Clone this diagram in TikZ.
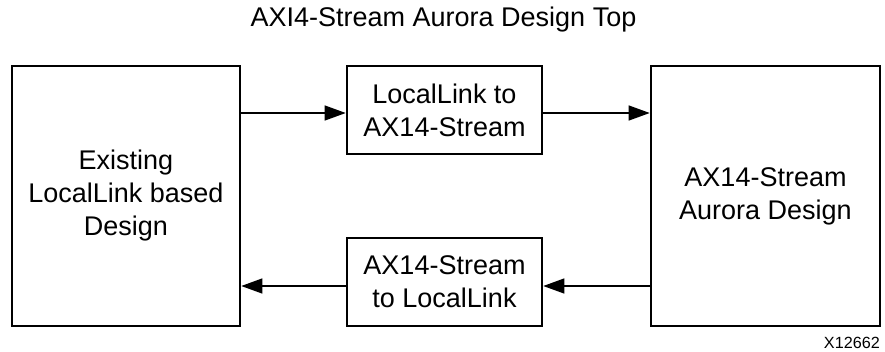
\documentclass[tikz,border=0pt]{standalone}
\usepackage{fontspec}
\setmainfont{Liberation Sans}
\usetikzlibrary{arrows.meta}
\begin{document}
\begin{tikzpicture}[x=1pt,y=-1pt,
  blockbox/.style={draw=black, line width=2.6pt, rectangle, align=center,
    font=\fontsize{27}{33}\selectfont, inner sep=0pt},
  arr/.style={line width=1.3pt, -{Triangle[length=21pt,width=15pt]}}]
\useasboundingbox (0,0) rectangle (885,351);
\node[anchor=base, font=\fontsize{27}{33}\selectfont] (title) at (443.5,26) {AXI4-Stream Aurora Design Top};
\node[blockbox, minimum width=228pt, minimum height=260pt] (left) at (126,196) {Existing\\LocalLink based\\Design};
\node[blockbox, minimum width=195pt, minimum height=88pt] (top) at (444.5,110) {LocalLink to\\AX14-Stream};
\node[blockbox, minimum width=195pt, minimum height=88pt] (bot) at (444.5,282) {AX14-Stream\\to LocalLink};
\node[blockbox, minimum width=229pt, minimum height=260pt] (right) at (765.5,196) {AX14-Stream\\Aurora Design};
\node[anchor=base east, font=\fontsize{16.2}{19}\selectfont, inner sep=0pt] (fig) at (880,348) {X12662};
\coordinate (t1) at ([yshift=-3pt]top.west);
\coordinate (t2) at ([yshift=-3pt]top.east);
\coordinate (b1) at ([yshift=-4pt]bot.west);
\coordinate (b2) at ([yshift=-4pt]bot.east);
\draw[arr] (left.east |- t1) -- (t1);
\draw[arr] (t2) -- (right.west |- t2);
\draw[arr] (right.west |- b2) -- (b2);
\draw[arr] (b1) -- (left.east |- b1);
\end{tikzpicture}
\end{document}
